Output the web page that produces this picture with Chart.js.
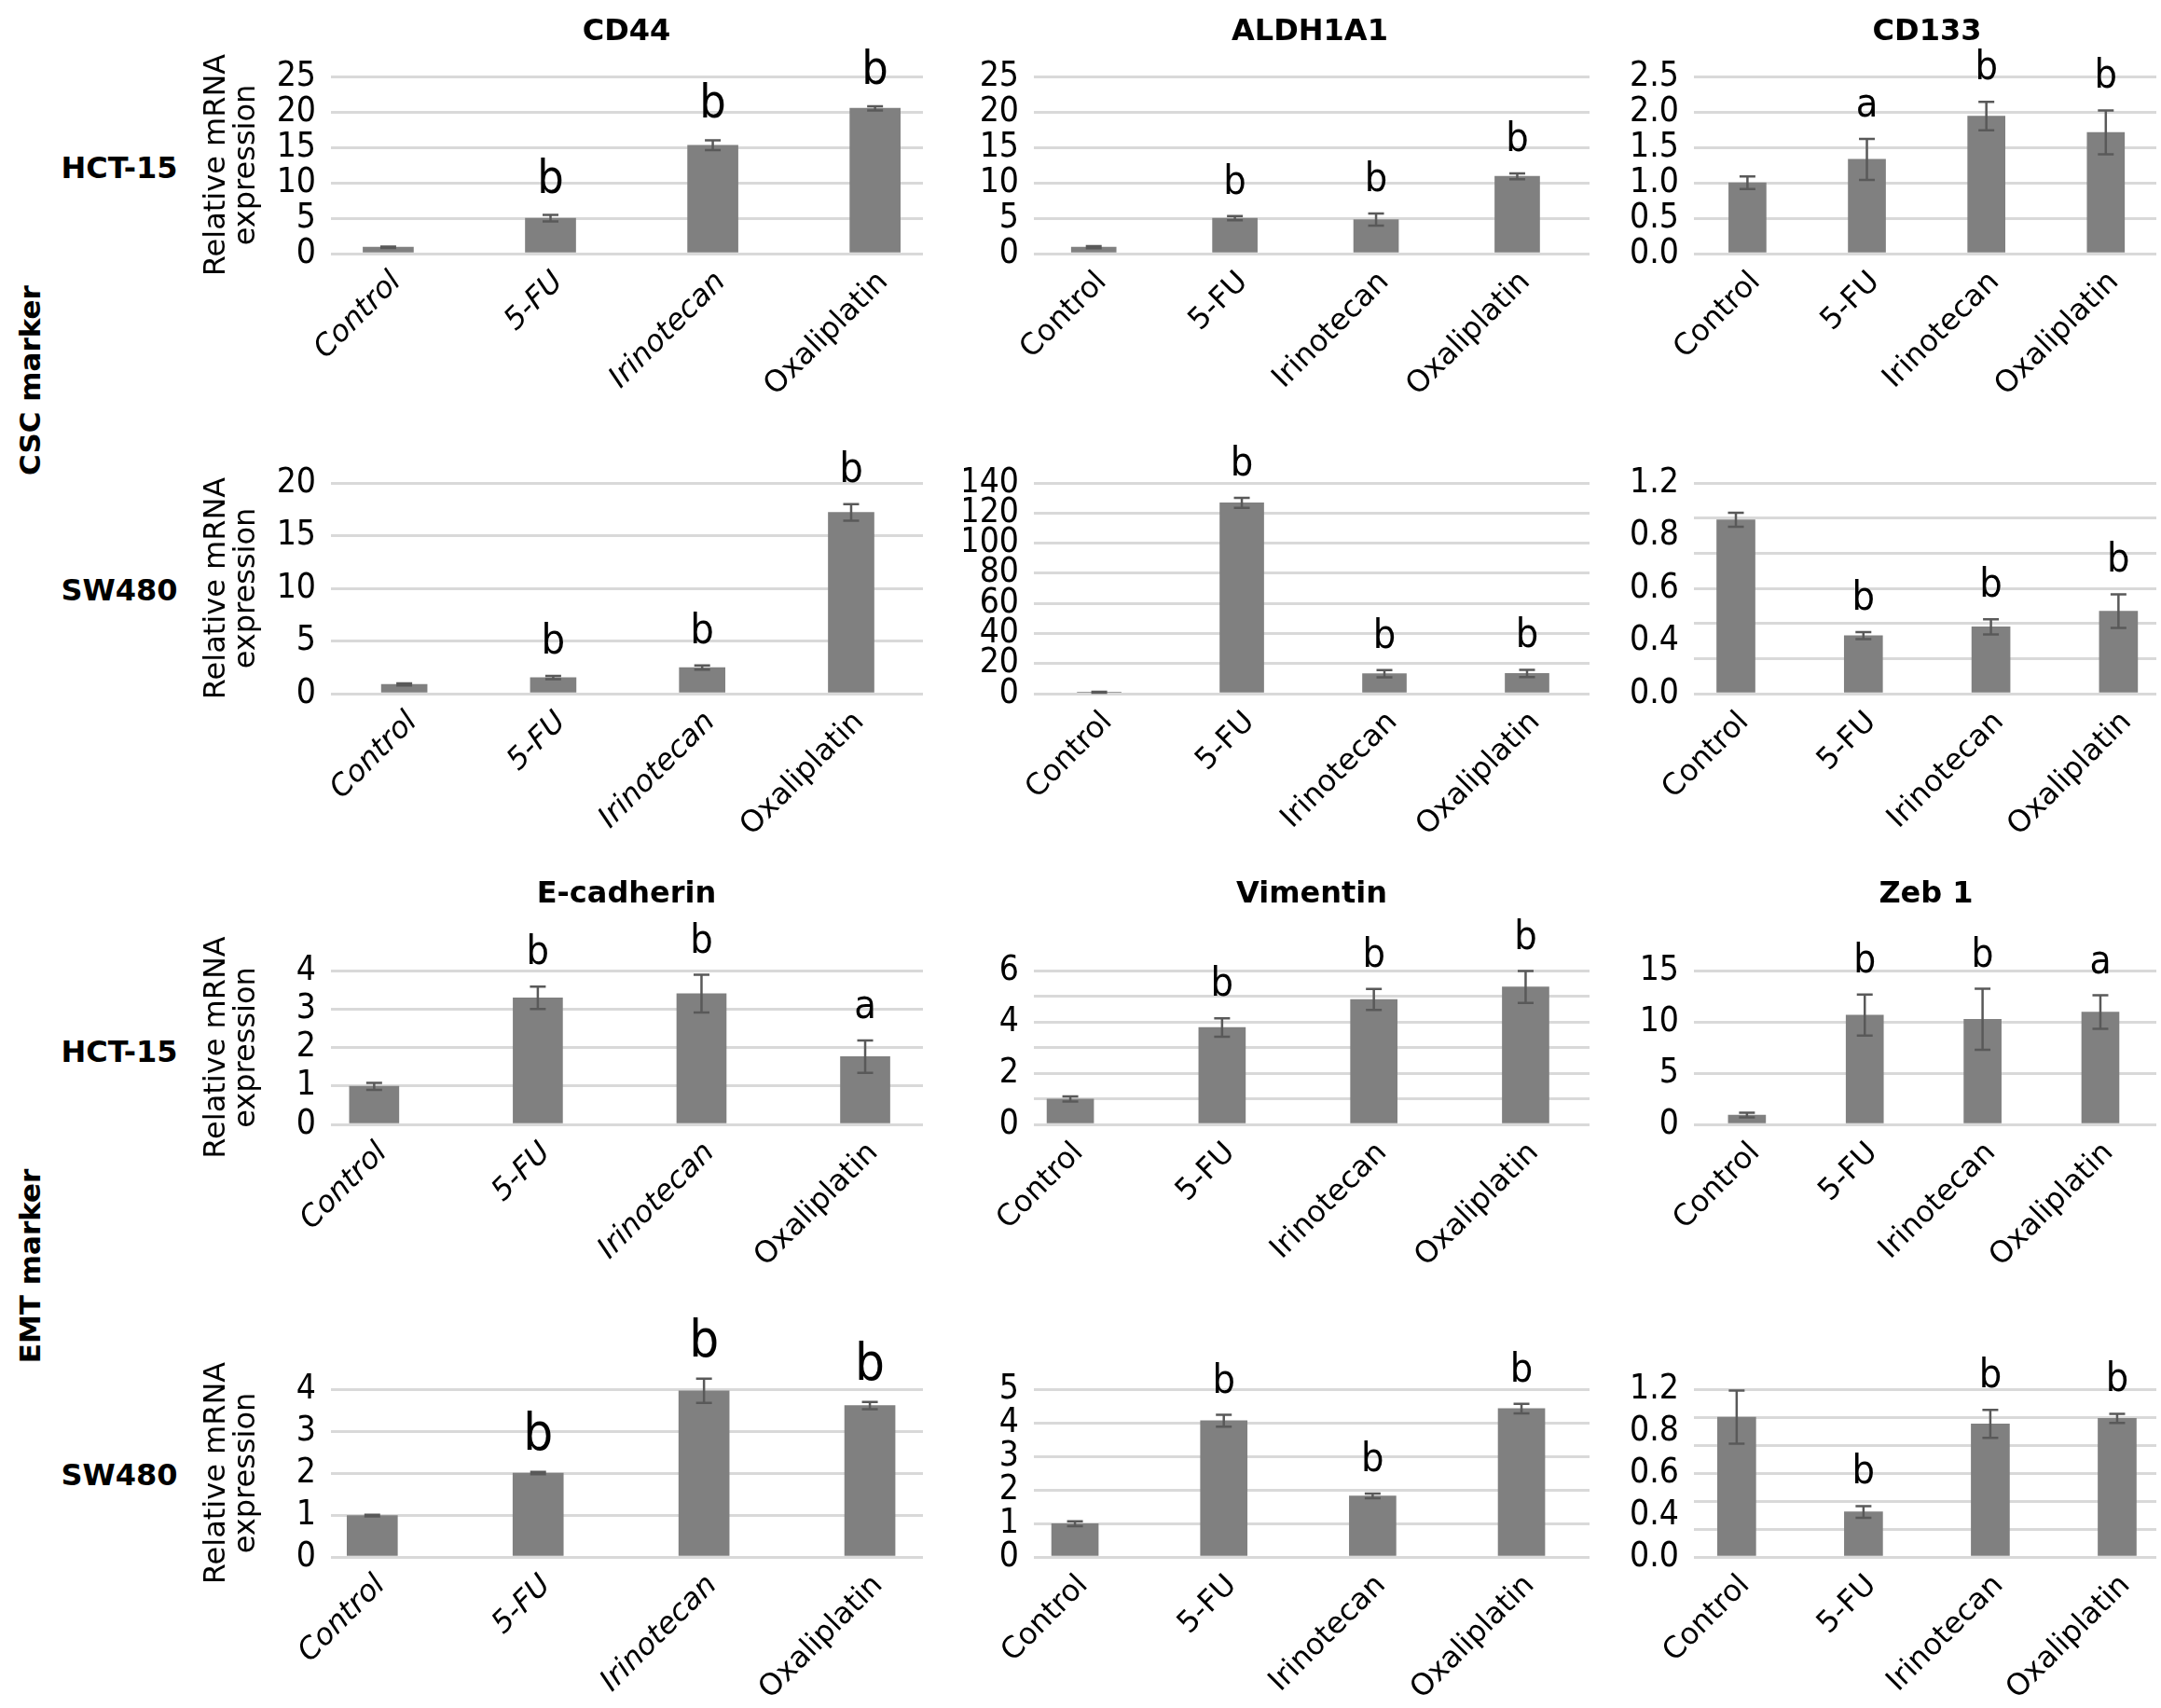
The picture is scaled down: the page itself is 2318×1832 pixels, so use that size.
<!DOCTYPE html>
<html>
<head>
<meta charset="utf-8">
<script src="https://cdn.jsdelivr.net/npm/chart.js@4.4.1/dist/chart.umd.min.js"></script>
<style>
  html, body { margin: 0; padding: 0; background: #fff; }
  body { width: 2318px; height: 1832px; position: relative; overflow: hidden; font-family: "DejaVu Sans", Verdana, sans-serif; }
  canvas { position: absolute; }
  .lbl { position: absolute; font-weight: bold; font-size: 32px; color: #000; white-space: nowrap; transform: translate(-50%, -50%); }
  .grp { position: absolute; font-weight: bold; font-size: 31px; color: #000; white-space: nowrap; transform: translate(-50%, -50%) rotate(-90deg); }
</style>
</head>
<body>
<script>
// categorias (eje x)
const categories = ['Control', '5-FU', 'Irinotecan', 'Oxaliplatin'];

// CSC marker - HCT-15
const cd44HctMean = [0.9, 5.0, 15.3, 20.5];
const cd44HctErr = [0.1, 0.45, 0.7, 0.3];
const cd44HctSig = ['', 'b', 'b', 'b'];
const cd44HctTicks = ['0', '5', '10', '15', '20', '25'];

const aldhHctMean = [0.9, 5.0, 4.8, 10.9];
const aldhHctErr = [0.15, 0.3, 0.85, 0.4];
const aldhHctSig = ['', 'b', 'b', 'b'];
const aldhHctTicks = ['0', '5', '10', '15', '20', '25'];

const cd133HctMean = [1.0, 1.33, 1.94, 1.71];
const cd133HctErr = [0.09, 0.29, 0.2, 0.31];
const cd133HctSig = ['', 'a', 'b', 'b'];
const cd133HctTicks = ['0.0', '0.5', '1.0', '1.5', '2.0', '2.5'];

// CSC marker - SW480
const cd44SwMean = [0.88, 1.53, 2.47, 17.2];
const cd44SwErr = [0.1, 0.15, 0.2, 0.78];
const cd44SwSig = ['', 'b', 'b', 'b'];
const cd44SwTicks = ['0', '5', '10', '15', '20'];

const aldhSwMean = [0.9, 126.8, 13.2, 13.4];
const aldhSwErr = [0.3, 3.3, 2.4, 2.4];
const aldhSwSig = ['', 'b', 'b', 'b'];
const aldhSwTicks = ['0', '20', '40', '60', '80', '100', '120', '140'];

const cd133SwMean = [0.99, 0.33, 0.38, 0.47];
const cd133SwErr = [0.04, 0.02, 0.043, 0.096];
const cd133SwSig = ['', 'b', 'b', 'b'];
const cd133SwTicks = ['0.0', '0.4', '0.6', '0.8', '1.2'];

// EMT marker - HCT-15
const ecadHctMean = [0.99, 3.29, 3.4, 1.76];
const ecadHctErr = [0.09, 0.29, 0.49, 0.42];
const ecadHctSig = ['', 'b', 'b', 'a'];
const ecadHctTicks = ['0', '1', '2', '3', '4'];

const vimHctMean = [0.99, 3.78, 4.87, 5.36];
const vimHctErr = [0.1, 0.36, 0.41, 0.62];
const vimHctSig = ['', 'b', 'b', 'b'];
const vimHctTicks = ['0', '2', '4', '6'];

const zebHctMean = [0.91, 10.65, 10.25, 10.95];
const zebHctErr = [0.23, 2.0, 2.97, 1.63];
const zebHctSig = ['', 'b', 'b', 'a'];
const zebHctTicks = ['0', '5', '10', '15'];

// EMT marker - SW480
const ecadSwMean = [0.985, 2.0, 3.96, 3.61];
const ecadSwErr = [0.02, 0.03, 0.29, 0.085];
const ecadSwSig = ['', 'b', 'b', 'b'];
const ecadSwTicks = ['0', '1', '2', '3', '4'];

const vimSwMean = [0.99, 4.06, 1.82, 4.42];
const vimSwErr = [0.07, 0.175, 0.07, 0.14];
const vimSwSig = ['', 'b', 'b', 'b'];
const vimSwTicks = ['0', '1', '2', '3', '4', '5'];

const zebSwMean = [1.0, 0.322, 0.951, 0.991];
const zebSwErr = [0.19, 0.042, 0.1, 0.033];
const zebSwSig = ['', 'b', 'b', 'b'];
const zebSwTicks = ['0.0', '0.4', '0.6', '0.8', '1.2'];

// textos
const geneTitles = ['CD44', 'ALDH1A1', 'CD133', 'E-cadherin', 'Vimentin', 'Zeb 1'];
const cellLines = ['HCT-15', 'SW480', 'HCT-15', 'SW480'];
const markerGroups = ['CSC marker', 'EMT marker'];
const yTitle = ['Relative mRNA', 'expression'];

// posiciones de cada grafica
const cols = [
  {left: 200, x0: 355, x1: 990},
  {left: 1034, x0: 1109, x1: 1705},
  {left: 1742, x0: 1817, x1: 2313}
];
const rows = [
  {yTop: 82, yZero: 272, pad: 75},
  {yTop: 517.5, yZero: 743.5, pad: 110},
  {yTop: 1041, yZero: 1206, pad: 110},
  {yTop: 1490, yZero: 1670, pad: 110}
];

const panels = [
  {mean: cd44HctMean, err: cd44HctErr, sig: cd44HctSig, ticks: cd44HctTicks, step: 5, row: 0, col: 0, xMin: -0.353, xMax: 3.295, barW: 54, sigSize: 50},
  {mean: aldhHctMean, err: aldhHctErr, sig: aldhHctSig, ticks: aldhHctTicks, step: 5, row: 0, col: 1, xMin: -0.424, xMax: 3.512, barW: 48, sigSize: 43},
  {mean: cd133HctMean, err: cd133HctErr, sig: cd133HctSig, ticks: cd133HctTicks, step: 0.5, row: 0, col: 2, xMin: -0.448, xMax: 3.423, barW: 40, sigSize: 43},
  {mean: cd44SwMean, err: cd44SwErr, sig: cd44SwSig, ticks: cd44SwTicks, step: 5, row: 1, col: 0, xMin: -0.492, xMax: 3.482, barW: 49, sigSize: 45},
  {mean: aldhSwMean, err: aldhSwErr, sig: aldhSwSig, ticks: aldhSwTicks, step: 20, row: 1, col: 1, xMin: -0.458, xMax: 3.438, barW: 47, sigSize: 43},
  {mean: cd133SwMean, err: cd133SwErr, sig: cd133SwSig, ticks: cd133SwTicks, step: 0.2, row: 1, col: 2, xMin: -0.329, xMax: 3.297, barW: 41, sigSize: 43},
  {mean: ecadHctMean, err: ecadHctErr, sig: ecadHctSig, ticks: ecadHctTicks, step: 1, row: 2, col: 0, xMin: -0.264, xMax: 3.353, barW: 53, sigSize: 43},
  {mean: vimHctMean, err: vimHctErr, sig: vimHctSig, ticks: vimHctTicks, step: 1, row: 2, col: 1, xMin: -0.240, xMax: 3.421, barW: 50, sigSize: 43},
  {mean: zebHctMean, err: zebHctErr, sig: zebHctSig, ticks: zebHctTicks, step: 5, row: 2, col: 2, xMin: -0.450, xMax: 3.475, barW: 40, sigSize: 42},
  {mean: ecadSwMean, err: ecadSwErr, sig: ecadSwSig, ticks: ecadSwTicks, step: 1, row: 3, col: 0, xMin: -0.249, xMax: 3.320, barW: 54, sigSize: 56},
  {mean: vimSwMean, err: vimSwErr, sig: vimSwSig, ticks: vimSwTicks, step: 1, row: 3, col: 1, xMin: -0.276, xMax: 3.457, barW: 50, sigSize: 43},
  {mean: zebSwMean, err: zebSwErr, sig: zebSwSig, ticks: zebSwTicks, step: 0.2, row: 3, col: 2, xMin: -0.337, xMax: 3.309, barW: 41, sigSize: 43}
];

const tickFamily = '"Liberation Sans Narrow", "DejaVu Sans Condensed", "DejaVu Sans", sans-serif';
const catFamily = '"DejaVu Sans", Verdana, sans-serif';
const xAxisHeight = 160;

// barras de error y letras de significancia
const errorBars = {
  id: 'errorBars',
  afterDatasetsDraw(chart, args, o) {
    const ctx = chart.ctx;
    const y = chart.scales.y;
    const bars = chart.getDatasetMeta(0).data;
    ctx.save();
    ctx.strokeStyle = '#595959';
    ctx.lineWidth = 2.5;
    bars.forEach(function(bar, i) {
      const top = y.getPixelForValue(o.mean[i] + o.err[i]);
      const bot = y.getPixelForValue(o.mean[i] - o.err[i]);
      ctx.beginPath();
      ctx.moveTo(bar.x, top); ctx.lineTo(bar.x, bot);
      ctx.moveTo(bar.x - 8.5, top); ctx.lineTo(bar.x + 8.5, top);
      ctx.moveTo(bar.x - 8.5, bot); ctx.lineTo(bar.x + 8.5, bot);
      ctx.stroke();
      if (o.sig[i]) {
        ctx.fillStyle = '#000';
        ctx.font = o.sigSize + 'px ' + tickFamily;
        ctx.textAlign = 'center';
        ctx.textBaseline = 'alphabetic';
        ctx.fillText(o.sig[i], bar.x, top - 24);
      }
    });
    ctx.restore();
  }
};

panels.forEach(function(p) {
  const c = cols[p.col], r = rows[p.row];
  const wy = c.x0 - c.left;
  const w = c.x1 - c.left + 6;
  const h = r.pad + (r.yZero - r.yTop) + xAxisHeight;
  const yMax = parseFloat(p.ticks[p.ticks.length - 1]);
  const gridVals = [];
  for (let v = 0; v <= yMax + 1e-9; v += p.step) gridVals.push(Math.round(v * 1000) / 1000);

  const cv = document.createElement('canvas');
  cv.width = w; cv.height = h;
  cv.style.left = c.left + 'px';
  cv.style.top = (r.yTop - r.pad) + 'px';
  cv.style.width = w + 'px';
  cv.style.height = h + 'px';
  document.body.appendChild(cv);

  new Chart(cv, {
    type: 'bar',
    data: {
      datasets: [{
        data: p.mean.map(function(v, i) { return {x: i, y: v}; }),
        backgroundColor: '#808080',
        borderWidth: 0,
        barThickness: p.barW
      }]
    },
    options: {
      responsive: false,
      animation: false,
      devicePixelRatio: 1,
      layout: {padding: {top: r.pad, right: 6, left: 0, bottom: 0}},
      plugins: {
        legend: {display: false},
        tooltip: {enabled: false},
        errorBars: {mean: p.mean, err: p.err, sig: p.sig, sigSize: p.sigSize}
      },
      scales: {
        x: {
          type: 'linear',
          min: p.xMin,
          max: p.xMax,
          offset: false,
          grid: {display: false, offset: false, drawTicks: false},
          border: {display: false},
          afterBuildTicks: function(s) { s.ticks = categories.map(function(cat, i) { return {value: i}; }); },
          afterFit: function(s) { s.height = xAxisHeight; },
          ticks: {
            autoSkip: false,
            minRotation: 45,
            maxRotation: 45,
            padding: 12,
            labelOffset: 9,
            color: '#000',
            font: function(ctx) {
              return {family: catFamily, size: 32, style: (p.col === 0 && ctx.index < 3) ? 'italic' : 'normal'};
            },
            callback: function(v, i) { return categories[i]; }
          }
        },
        y: {
          min: 0,
          max: yMax,
          position: 'left',
          grid: {color: '#d9d9d9', lineWidth: 3, drawTicks: false},
          border: {display: false},
          ticks: {display: false},
          afterBuildTicks: function(s) { s.ticks = gridVals.map(function(v) { return {value: v}; }); },
          afterFit: function(s) { s.width = 0; }
        },
        yl: {
          min: 0,
          max: yMax,
          position: 'left',
          grid: {display: false, drawTicks: false},
          border: {display: false},
          afterBuildTicks: function(s) {
            s.ticks = p.ticks.map(function(t, i) { return {value: yMax * i / (p.ticks.length - 1)}; });
          },
          afterFit: function(s) { s.width = wy; },
          ticks: {
            autoSkip: false,
            padding: 16,
            color: '#000',
            font: {family: tickFamily, size: 37},
            callback: function(v, i) { return p.ticks[i]; }
          },
          title: {
            display: p.col === 0,
            text: yTitle,
            color: '#000',
            font: {family: catFamily, size: 32, lineHeight: 1.0},
            padding: {top: 17, bottom: 0}
          }
        }
      }
    },
    plugins: [errorBars]
  });
});

// titulos, lineas celulares y grupos
function addText(cls, text, x, y) {
  const d = document.createElement('div');
  d.className = cls;
  d.textContent = text;
  d.style.left = x + 'px';
  d.style.top = y + 'px';
  document.body.appendChild(d);
}
const titlePos = [[672, 32], [1405, 32], [2067, 32], [672, 957], [1407, 957], [2066, 957]];
geneTitles.forEach(function(t, i) { addText('lbl', t, titlePos[i][0], titlePos[i][1]); });
const cellY = [180, 633, 1128, 1582];
cellLines.forEach(function(t, i) { addText('lbl', t, 128, cellY[i]); });
const groupY = [408, 1358];
markerGroups.forEach(function(t, i) { addText('grp', t, 32, groupY[i]); });
</script>
</body>
</html>
